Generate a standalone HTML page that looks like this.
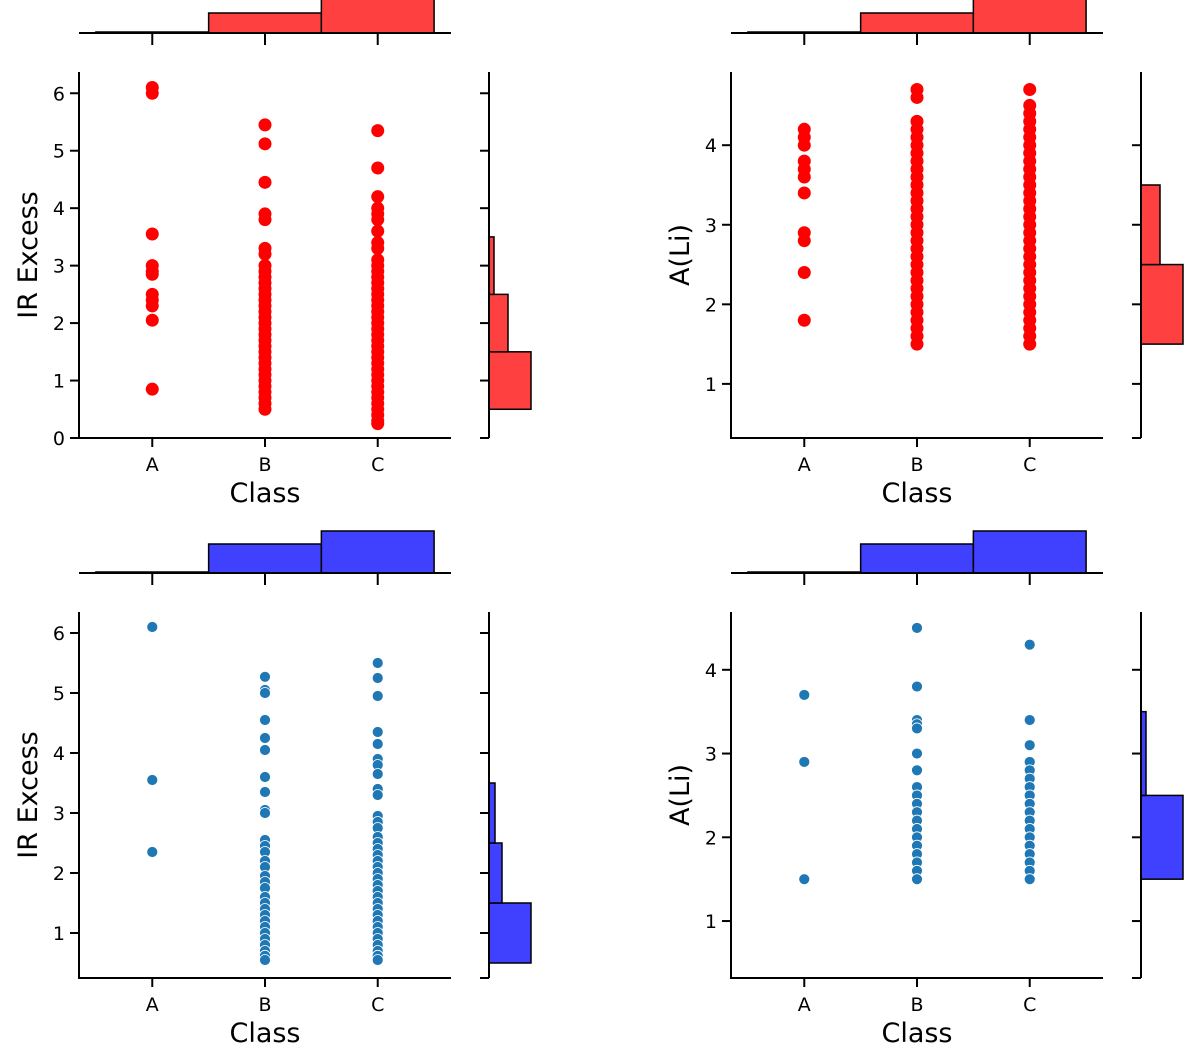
<!DOCTYPE html>
<html><head><meta charset="utf-8"><style>
body{margin:0;background:#fff}
svg{display:block;font-family:"DejaVu Sans","Liberation Sans",sans-serif}
</style></head><body>
<svg id="c" width="1200" height="1064" viewBox="0 0 1200 1064"></svg>
<script>
// ---- data ----
const categories = ["A","B","C"];
// top-left: IR Excess (red)
const irRedA = [6.1,6.0,3.55,3.0,2.9,2.85,2.5,2.4,2.3,2.05,0.85];
const irRedB = [5.45,5.12,4.45,3.9,3.8,3.3,3.2,3.0,2.9,2.8,2.7,2.6,2.5,2.4,2.3,2.2,2.1,2.0,1.9,1.8,1.7,1.6,1.5,1.4,1.3,1.2,1.1,1.0,0.9,0.8,0.7,0.6,0.5];
const irRedC = [5.35,4.7,4.2,4.0,3.9,3.8,3.6,3.4,3.3,3.1,3.0,2.9,2.8,2.7,2.6,2.5,2.4,2.3,2.2,2.1,2.0,1.9,1.8,1.7,1.6,1.5,1.4,1.3,1.2,1.1,1.0,0.9,0.8,0.7,0.6,0.5,0.4,0.3,0.25];
// top-right: A(Li) (red)
const liRedA = [4.2,4.1,4.0,3.8,3.7,3.6,3.4,2.9,2.8,2.4,1.8];
const liRedB = [4.7,4.6,4.3,4.2,4.1,4.0,3.9,3.8,3.7,3.6,3.5,3.4,3.3,3.2,3.1,3.0,2.9,2.8,2.7,2.6,2.5,2.4,2.3,2.2,2.1,2.0,1.9,1.8,1.7,1.6,1.5];
const liRedC = [4.7,4.5,4.4,4.3,4.2,4.1,4.0,3.9,3.8,3.7,3.6,3.5,3.4,3.3,3.2,3.1,3.0,2.9,2.8,2.7,2.6,2.5,2.4,2.3,2.2,2.1,2.0,1.9,1.8,1.7,1.6,1.5];
// bottom-left: IR Excess (blue)
const irBlueA = [6.1,3.55,2.35];
const irBlueB = [5.27,5.05,5.0,4.55,4.25,4.05,3.6,3.35,3.05,3.0,2.55,2.45,2.35,2.2,2.1,1.95,1.85,1.75,1.6,1.5,1.4,1.3,1.2,1.1,1.0,0.9,0.8,0.7,0.62,0.55];
const irBlueC = [5.5,5.25,4.95,4.35,4.15,3.9,3.8,3.65,3.4,3.3,2.95,2.85,2.75,2.6,2.5,2.4,2.3,2.2,2.1,2.0,1.9,1.8,1.7,1.6,1.5,1.4,1.3,1.2,1.1,1.0,0.9,0.8,0.7,0.62,0.55];
// bottom-right: A(Li) (blue)
const liBlueA = [3.7,2.9,1.5];
const liBlueB = [4.5,3.8,3.4,3.35,3.3,3.0,2.8,2.6,2.5,2.4,2.3,2.2,2.1,2.0,1.9,1.8,1.7,1.6,1.5];
const liBlueC = [4.3,3.4,3.1,2.9,2.8,2.7,2.6,2.5,2.4,2.3,2.2,2.1,2.0,1.9,1.8,1.7,1.6,1.5];
// marginal histograms (counts)
const topHistRedIR = [1,20,45];
const topHistRedLi = [1,20,45];
const topHistBlueIR = [1,29,42];
const topHistBlueLi = [1,29,42];
const binEdgesIR = [0.5,1.5,2.5,3.5];
const binEdgesLi = [1.5,2.5,3.5];
const sideHistRedIR = [42,19,5];
const sideHistRedLi = [42,19];
const sideHistBlueIR = [42,13,6];
const sideHistBlueLi = [42,5];
const ticksIR = [0,1,2,3,4,5,6];
const ticksLi = [1,2,3,4];

const svg=document.getElementById('c');
const NS='http://www.w3.org/2000/svg';
function mk(tag,attrs,parent){const e=document.createElementNS(NS,tag);for(const k in attrs)e.setAttribute(k,attrs[k]);(parent||svg).appendChild(e);return e;}

function panel(o){
  const g=mk('g',{});
  
  
  const X0=o.x0, X1=o.x0+372, Y0=o.y0, Y1=o.y0+366;
  const xs=i=>X0+(i+0.65)/3.3*(X1-X0);
  const ys=v=>Y1-(v-o.ymin)/(o.ymax-o.ymin)*(Y1-Y0);
  const hb=Y0-39;
  const bw=xs(1)-xs(0);
  o.top.forEach((c,i)=>{
    const r=mk('rect',{x:xs(i)-bw/2,y:hb-c,width:bw,height:c,fill:o.bar,stroke:'#000','stroke-width':1.5},g);
    
    
  });
  mk('line',{x1:X0,x2:X1,y1:hb,y2:hb,stroke:'#000','stroke-width':2},g);
  categories.forEach((c,i)=>mk('line',{x1:xs(i),x2:xs(i),y1:hb,y2:hb+12,stroke:'#000','stroke-width':2},g));
  const sx=X0+410;
  o.side.forEach((c,i)=>{
    const a=ys(o.edges[i]), b=ys(o.edges[i]+1);
    const r=mk('rect',{x:sx,y:b,width:c,height:a-b,fill:o.bar,stroke:'#000','stroke-width':1.5},g);
    
    
  });
  mk('line',{x1:sx,x2:sx,y1:Y0,y2:Y1,stroke:'#000','stroke-width':2},g);
  o.ticks.forEach(t=>mk('line',{x1:sx-9,x2:sx,y1:ys(t),y2:ys(t),stroke:'#000','stroke-width':2},g));
  mk('line',{x1:sx-9,x2:sx,y1:Y1,y2:Y1,stroke:'#000','stroke-width':2},g);
  o.series.forEach((arr,i)=>arr.forEach(v=>{
    const c=mk('circle',{cx:xs(i),cy:ys(v),r:o.r,fill:o.pt,stroke:o.edge,'stroke-width':o.edge==='none'?0:0.8},g);
    
    
  }));
  mk('line',{x1:X0,x2:X0,y1:Y0,y2:Y1+1,stroke:'#000','stroke-width':2},g);
  mk('line',{x1:X0-1,x2:X1,y1:Y1,y2:Y1,stroke:'#000','stroke-width':2},g);
  o.ticks.forEach(t=>{
    mk('line',{x1:X0-9,x2:X0,y1:ys(t),y2:ys(t),stroke:'#000','stroke-width':2},g);
    const tx=mk('text',{x:X0-14,y:ys(t)+7,'text-anchor':'end','font-size':19},g);tx.textContent=t;
    
    
  });
  categories.forEach((c,i)=>{
    mk('line',{x1:xs(i),x2:xs(i),y1:Y1,y2:Y1+9,stroke:'#000','stroke-width':2},g);
    const tx=mk('text',{x:xs(i),y:Y1+33,'text-anchor':'middle','font-size':19},g);tx.textContent=c;
    
    
  });
  const xl=mk('text',{x:xs(1),y:Y1+64,'text-anchor':'middle','font-size':27},g);xl.textContent='Class';
  
  
  const yx=o.ylabx, yy=(Y0+Y1)/2;
  const yl=mk('text',{x:yx,y:yy,'text-anchor':'middle','font-size':27,transform:`rotate(-90 ${yx} ${yy})`},g);yl.textContent=o.ylabel;
  
  
}
const RED={pt:'#ff0000',edge:'none',bar:'#ff4040',r:6.5};
const BLUE={pt:'#1f77b4',edge:'#fff',bar:'#4040ff',r:5.5};
panel(Object.assign({name:'panel-ir-red',x0:79,y0:72,ymin:0,ymax:6.37,ticks:ticksIR,series:[irRedA,irRedB,irRedC],top:topHistRedIR,side:sideHistRedIR,edges:binEdgesIR,ylabel:'IR Excess',ylabx:37},RED));
panel(Object.assign({name:'panel-li-red',x0:731,y0:72,ymin:0.32,ymax:4.92,ticks:ticksLi,series:[liRedA,liRedB,liRedC],top:topHistRedLi,side:sideHistRedLi,edges:binEdgesLi,ylabel:'A(Li)',ylabx:689},RED));
panel(Object.assign({name:'panel-ir-blue',x0:79,y0:612,ymin:0.25,ymax:6.35,ticks:[1,2,3,4,5,6],series:[irBlueA,irBlueB,irBlueC],top:topHistBlueIR,side:sideHistBlueIR,edges:binEdgesIR,ylabel:'IR Excess',ylabx:37},BLUE));
panel(Object.assign({name:'panel-li-blue',x0:731,y0:612,ymin:0.32,ymax:4.69,ticks:ticksLi,series:[liBlueA,liBlueB,liBlueC],top:topHistBlueLi,side:sideHistBlueLi,edges:binEdgesLi,ylabel:'A(Li)',ylabx:689},BLUE));
</script>
</body></html>
